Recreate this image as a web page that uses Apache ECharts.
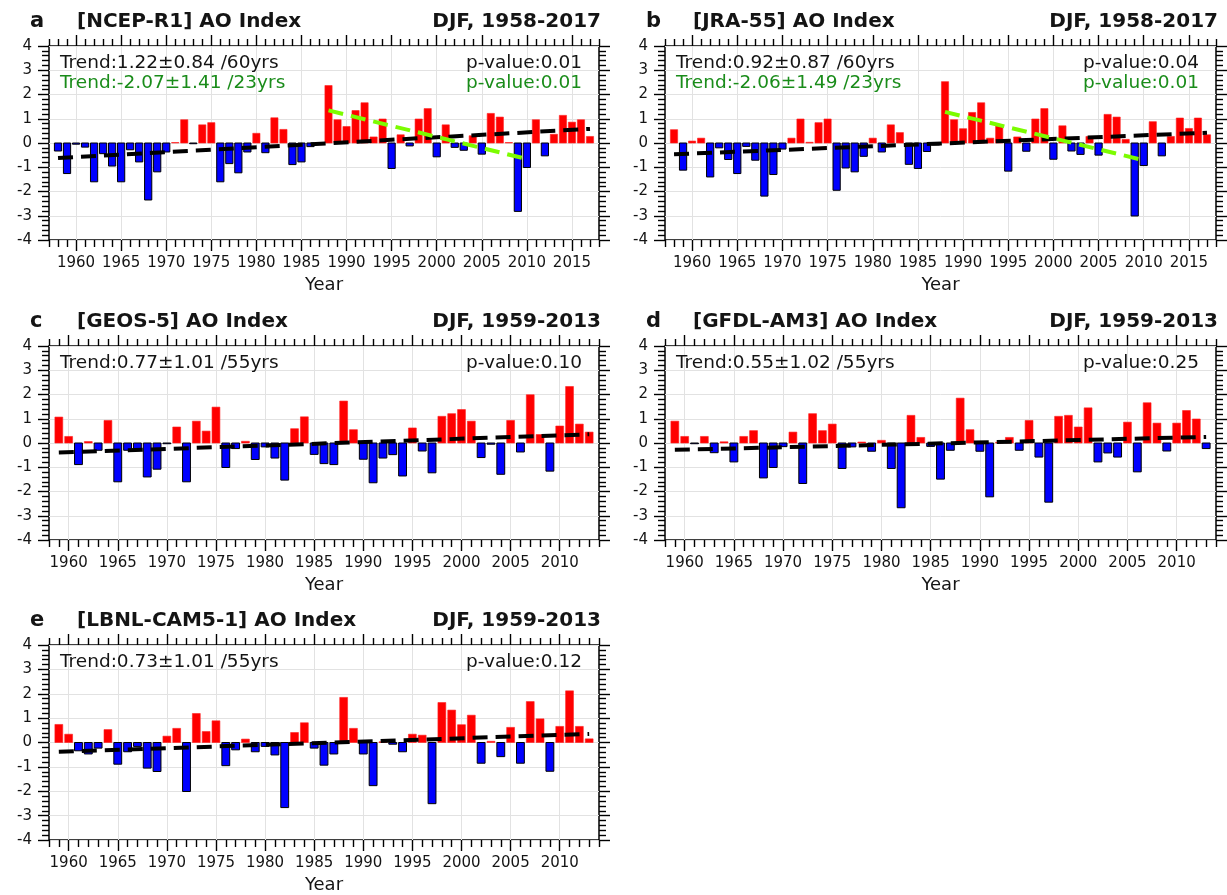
<!DOCTYPE html>
<html>
<head>
<meta charset="utf-8">
<script src="https://cdn.jsdelivr.net/npm/echarts@6/dist/echarts.min.js"></script>
<style>
html,body{margin:0;padding:0;background:#fff;}
#chart{width:1227px;height:895px;}
</style>
</head>
<body>
<div id="chart"></div>
<script>
// ---------------- DATA ----------------
const panelLetters = ['a', 'b', 'c', 'd', 'e'];
const panelTitles = ['[NCEP-R1] AO Index', '[JRA-55] AO Index', '[GEOS-5] AO Index', '[GFDL-AM3] AO Index', '[LBNL-CAM5-1] AO Index'];
const panelPeriods = ['DJF, 1958-2017', 'DJF, 1958-2017', 'DJF, 1959-2013', 'DJF, 1959-2013', 'DJF, 1959-2013'];
const startYears = [1958, 1958, 1959, 1959, 1959];

const aoNCEP = [-0.33,-1.26,-0.05,-0.17,-1.60,-0.44,-0.95,-1.60,-0.28,-0.78,
  -2.35,-1.19,-0.37,0.02,0.96,-0.03,0.75,0.84,-1.60,-0.85,
  -1.23,-0.37,0.40,-0.40,1.04,0.56,-0.89,-0.78,-0.15,0.02,
  2.37,0.96,0.68,1.34,1.66,0.25,0.99,-1.05,0.34,-0.12,
  0.99,1.42,-0.57,0.75,-0.18,-0.30,0.30,-0.46,1.22,1.07,
  0.02,-2.82,-1.01,0.96,-0.53,0.36,1.14,0.86,0.96,0.27];
const aoJRA = [0.55,-1.12,0.08,0.20,-1.40,-0.20,-0.68,-1.26,-0.14,-0.71,
  -2.19,-1.30,-0.25,0.20,0.99,0.03,0.84,0.99,-1.95,-1.03,
  -1.19,-0.55,0.20,-0.37,0.75,0.43,-0.88,-1.05,-0.35,-0.08,
  2.53,0.96,0.59,1.26,1.66,0.20,0.73,-1.16,0.25,-0.34,
  0.99,1.42,-0.67,0.71,-0.33,-0.47,0.27,-0.50,1.18,1.07,
  0.15,-3.01,-0.93,0.88,-0.53,0.27,1.03,0.60,1.03,0.34];
const aoGEOS = [1.07,0.27,-0.89,0.06,-0.30,0.93,-1.60,-0.30,-0.23,-1.40,
  -1.08,-0.03,0.66,-1.60,0.90,0.49,1.48,-1.01,-0.23,0.07,
  -0.68,-0.16,-0.62,-1.53,0.59,1.08,-0.47,-0.85,-0.89,1.73,
  0.55,-0.67,-1.64,-0.62,-0.48,-1.36,0.62,-0.33,-1.23,1.10,
  1.21,1.38,0.90,-0.60,-0.05,-1.29,0.93,-0.37,1.99,0.35,
  -1.16,0.70,2.33,0.78,0.45];
const aoGFDL = [0.90,0.27,-0.03,0.27,-0.40,0.05,-0.78,0.27,0.51,-1.44,
  -1.01,-0.15,0.45,-1.67,1.21,0.51,0.78,-1.05,-0.16,0.04,
  -0.34,0.11,-1.05,-2.67,1.14,0.23,-0.14,-1.49,-0.30,1.85,
  0.55,-0.34,-2.22,0.03,0.23,-0.30,0.93,-0.58,-2.44,1.10,
  1.14,0.66,1.45,-0.78,-0.41,-0.58,0.86,-1.19,1.66,0.82,
  -0.33,0.82,1.34,0.99,-0.23];
const aoLBNL = [0.74,0.34,-0.34,-0.47,-0.23,0.53,-0.89,-0.38,-0.16,-1.05,
  -1.19,0.26,0.58,-2.01,1.19,0.45,0.89,-0.95,-0.30,0.14,
  -0.38,-0.16,-0.51,-2.67,0.41,0.81,-0.23,-0.93,-0.47,1.85,
  0.58,-0.47,-1.77,0.03,-0.07,-0.38,0.34,0.30,-2.51,1.64,
  1.33,0.73,1.12,-0.85,0.05,-0.58,0.62,-0.85,1.68,0.97,
  -1.18,0.66,2.12,0.66,0.15];
const panelValues = [aoNCEP, aoJRA, aoGEOS, aoGFDL, aoLBNL];

const trendLabels = ['Trend:1.22\u00b10.84 /60yrs', 'Trend:0.92\u00b10.87 /60yrs', 'Trend:0.77\u00b11.01 /55yrs', 'Trend:0.55\u00b11.02 /55yrs', 'Trend:0.73\u00b11.01 /55yrs'];
const pLabels = ['p-value:0.01', 'p-value:0.04', 'p-value:0.10', 'p-value:0.25', 'p-value:0.12'];
const recentTrendLabels = ['Trend:-2.07\u00b11.41 /23yrs', 'Trend:-2.06\u00b11.49 /23yrs', null, null, null];
const recentPLabels = ['p-value:0.01', 'p-value:0.01', null, null, null];
const recentPeriod = [1988, 2010];

const xTicksLong = [1960, 1965, 1970, 1975, 1980, 1985, 1990, 1995, 2000, 2005, 2010, 2015];
const xTicksShort = [1960, 1965, 1970, 1975, 1980, 1985, 1990, 1995, 2000, 2005, 2010];
const yTickMin = -4, yTickMax = 4;

// ---------------- LAYOUT ----------------
const layout = [
  {left: 49, top: 46, width: 550, height: 194, xMin: 1957, xMax: 2018, ticks: xTicksLong},
  {left: 665, top: 46, width: 551, height: 194, xMin: 1957, xMax: 2018, ticks: xTicksLong},
  {left: 49, top: 346, width: 550, height: 194, xMin: 1958, xMax: 2014, ticks: xTicksShort},
  {left: 665, top: 346, width: 551, height: 194, xMin: 1958, xMax: 2014, ticks: xTicksShort},
  {left: 49, top: 645, width: 550, height: 195, xMin: 1958, xMax: 2014, ticks: xTicksShort}
];
const FONT = '"DejaVu Sans", "Liberation Sans", sans-serif';
const GRIDLINE = '#e2e2e2';
const TXT = '#141414';
const GREEN_TXT = '#1a8c1a';
const GREEN_LINE = '#7cfc00';
const MAJOR_LEN = 11, MINOR_LEN = 7;

function linfit(xs, ys) {
  const n = xs.length;
  let mx = 0, my = 0;
  for (let i = 0; i < n; i++) { mx += xs[i]; my += ys[i]; }
  mx /= n; my /= n;
  let sxy = 0, sxx = 0;
  for (let i = 0; i < n; i++) { sxy += (xs[i] - mx) * (ys[i] - my); sxx += (xs[i] - mx) * (xs[i] - mx); }
  const b = sxy / sxx;
  return {a: my - b * mx, b: b};
}

const grids = [], xAxes = [], yAxes = [], series = [], graphics = [];
const tickLine = {color: '#000', width: 1.4};

panelValues.forEach((vals, i) => {
  const L = layout[i];
  const years = vals.map((_, k) => startYears[i] + k);
  grids.push({left: L.left, top: L.top, width: L.width, height: L.height, show: true,
    borderColor: '#000', borderWidth: 1.5, backgroundColor: 'transparent'});
  const minors = [];
  for (let y = Math.ceil(L.xMin); y <= L.xMax; y++) if (L.ticks.indexOf(y) < 0) minors.push(y);
  const base = {type: 'value', gridIndex: i, min: L.xMin, max: L.xMax,
    axisLine: {show: false, onZero: false}, splitLine: {show: false},
    axisLabel: {show: false}, axisTick: {show: false}};
  xAxes.push(Object.assign({}, base, {position: 'bottom',
    axisTick: {show: true, inside: false, length: MAJOR_LEN, customValues: L.ticks, lineStyle: tickLine},
    axisLabel: {show: true, customValues: L.ticks, formatter: v => String(v), margin: 16,
      color: TXT, fontFamily: FONT, fontSize: 15},
    splitLine: {show: true, lineStyle: {color: GRIDLINE, width: 1}}}));
  xAxes.push(Object.assign({}, base, {position: 'bottom',
    axisTick: {show: true, inside: false, length: MINOR_LEN, customValues: minors, lineStyle: tickLine}}));
  xAxes.push(Object.assign({}, base, {position: 'top',
    axisTick: {show: true, inside: false, length: MAJOR_LEN, customValues: L.ticks, lineStyle: tickLine}}));
  xAxes.push(Object.assign({}, base, {position: 'top',
    axisTick: {show: true, inside: false, length: MINOR_LEN, customValues: minors, lineStyle: tickLine}}));
  const yBase = {type: 'value', gridIndex: i, min: yTickMin, max: yTickMax, interval: 1,
    axisLine: {show: false, onZero: false},
    axisTick: {show: true, inside: false, length: MAJOR_LEN, lineStyle: tickLine},
    minorTick: {show: true, splitNumber: 5, length: MINOR_LEN, lineStyle: tickLine}};
  yAxes.push(Object.assign({}, yBase, {position: 'left',
    axisLabel: {show: true, margin: 17, color: TXT, fontFamily: FONT, fontSize: 15},
    splitLine: {show: true, lineStyle: {color: GRIDLINE, width: 1}}}));
  yAxes.push(Object.assign({}, yBase, {position: 'right', axisLabel: {show: false}, splitLine: {show: false}}));

  const xIdx = 4 * i, yIdx = 2 * i;
  series.push({
    type: 'custom', coordinateSystem: 'cartesian2d', xAxisIndex: xIdx, yAxisIndex: yIdx,
    data: years.map((y, k) => [y, vals[k]]), z: 2,
    renderItem: function (params, api) {
      const x = api.value(0), v = api.value(1);
      const p1 = api.coord([x - 0.4, v]);
      const p2 = api.coord([x + 0.4, 0]);
      const pos = v >= 0;
      return {type: 'rect',
        shape: {x: p1[0], y: Math.min(p1[1], p2[1]), width: p2[0] - p1[0], height: Math.abs(p2[1] - p1[1])},
        style: {fill: pos ? '#ff0000' : '#0000ff', stroke: pos ? '#ff2020' : '#000', lineWidth: pos ? 0.6 : 1}};
    }
  });
  const fit = linfit(years, vals);
  const y0 = years[0], y1 = years[years.length - 1];
  series.push({type: 'line', xAxisIndex: xIdx, yAxisIndex: yIdx, z: 5, showSymbol: false, symbol: 'none',
    silent: true, data: [[y0, fit.a + fit.b * y0], [y1, fit.a + fit.b * y1]],
    lineStyle: {color: '#000', width: 4, type: [15, 8]}});
  if (recentTrendLabels[i]) {
    const rx = [], ry = [];
    years.forEach((y, k) => { if (y >= recentPeriod[0] && y <= recentPeriod[1]) { rx.push(y); ry.push(vals[k]); } });
    const rf = linfit(rx, ry);
    series.push({type: 'line', xAxisIndex: xIdx, yAxisIndex: yIdx, z: 6, showSymbol: false, symbol: 'none',
      silent: true, data: [[recentPeriod[0], rf.a + rf.b * recentPeriod[0]], [recentPeriod[1], rf.a + rf.b * recentPeriod[1]]],
      lineStyle: {color: GREEN_LINE, width: 4, type: [15, 8]}});
  }

  // texts
  const tY = L.top - 24;
  const txt = (text, x, y, opts) => graphics.push({type: 'text', x: x, y: y, z: 100, silent: true,
    style: Object.assign({text: text, fill: TXT, font: '18.5px ' + FONT,
      textAlign: 'left', align: 'left', textVerticalAlign: 'middle', verticalAlign: 'middle'}, opts || {})});
  const right = L.left + L.width;
  txt(panelLetters[i], L.left - 19, tY, {font: 'bold 21px ' + FONT});
  txt(panelTitles[i], L.left + 28, tY, {font: 'bold 20px ' + FONT});
  txt(panelPeriods[i], right + 2, tY, {font: 'bold 20px ' + FONT, textAlign: 'right', align: 'right'});
  txt(trendLabels[i], L.left + 11, L.top + 17);
  txt(pLabels[i], right - 17, L.top + 17, {textAlign: 'right', align: 'right'});
  if (recentTrendLabels[i]) {
    txt(recentTrendLabels[i], L.left + 11, L.top + 37, {fill: GREEN_TXT});
    txt(recentPLabels[i], right - 17, L.top + 37, {fill: GREEN_TXT, textAlign: 'right', align: 'right'});
  }
  txt('Year', L.left + L.width / 2, L.top + L.height + 45, {textAlign: 'center', align: 'center', font: '18px ' + FONT});
});

const chart = echarts.init(document.getElementById('chart'), null, {renderer: 'canvas'});
chart.setOption({
  animation: false,
  backgroundColor: '#fff',
  grid: grids,
  xAxis: xAxes,
  yAxis: yAxes,
  series: series,
  graphic: {elements: graphics}
});
</script>
</body>
</html>
